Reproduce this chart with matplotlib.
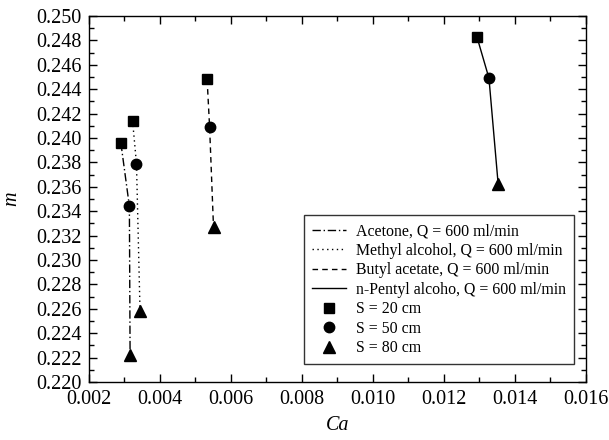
import matplotlib.pyplot as plt
from matplotlib.lines import Line2D
from matplotlib.ticker import MultipleLocator

plt.rcParams['font.family'] = ['Liberation Serif', 'DejaVu Serif']
plt.rcParams['mathtext.fontset'] = 'stix'

# Ca values for S = 20, 50, 80 cm
acetone_ca = [0.00290, 0.00314, 0.00316]
acetone_m = [0.2396, 0.2344, 0.2222]
methyl_ca = [0.00323, 0.00334, 0.00344]
methyl_m = [0.2414, 0.2379, 0.2258]
butyl_ca = [0.00533, 0.00540, 0.00551]
butyl_m = [0.2448, 0.2409, 0.2327]
pentyl_ca = [0.01293, 0.01327, 0.01353]
pentyl_m = [0.2483, 0.2449, 0.2362]

series = [
    ('Acetone, Q = 600 ml/min', acetone_ca, acetone_m, (0, (6, 2, 1, 2))),
    ('Methyl alcohol, Q = 600 ml/min', methyl_ca, methyl_m, (0, (1, 2.5))),
    ('Butyl acetate, Q = 600 ml/min', butyl_ca, butyl_m, (0, (4, 3))),
    ('n-Pentyl alcoho, Q = 600 ml/min', pentyl_ca, pentyl_m, '-'),
]
markers = [('s', 'S = 20 cm', 6.5), ('o', 'S = 50 cm', 7.5), ('^', 'S = 80 cm', 8)]

fig = plt.figure(figsize=(6.09, 4.40), dpi=100)
ax = fig.add_axes([0.146, 0.1318, 0.816, 0.832])

for label, xs, ys, ls in series:
    ax.plot(xs, ys, color='black', linestyle=ls, linewidth=1)
    for i, (mk, _, ms) in enumerate(markers):
        ax.plot(xs[i], ys[i], marker=mk, color='black', markersize=ms, linestyle='none')

ax.set_xlim(0.002, 0.016)
ax.set_ylim(0.220, 0.250)
ax.xaxis.set_major_locator(MultipleLocator(0.002))
ax.xaxis.set_minor_locator(MultipleLocator(0.001))
ax.yaxis.set_major_locator(MultipleLocator(0.002))
ax.yaxis.set_minor_locator(MultipleLocator(0.001))
ax.xaxis.set_major_formatter(plt.FormatStrFormatter('%.3f'))
ax.yaxis.set_major_formatter(plt.FormatStrFormatter('%.3f'))
ax.tick_params(which='both', direction='in', top=True, right=True, labelsize=14.5, width=1)
ax.tick_params(which='major', length=6)
ax.tick_params(which='minor', length=3.5)
ax.tick_params(axis='x', pad=6)
ax.tick_params(axis='y', pad=5)
for s in ax.spines.values():
    s.set_linewidth(1)

ax.set_xlabel('Ca', fontsize=14.5, style='italic', labelpad=5)
ax.set_ylabel('m', fontsize=14.5, style='italic', labelpad=11)

handles = [Line2D([], [], color='black', linestyle=ls, linewidth=1, label=lab)
           for lab, _, _, ls in series]
handles += [Line2D([], [], color='black', marker=mk, markersize=ms, linestyle='none', label=lab)
            for mk, lab, ms in markers]
leg = ax.legend(handles=handles, loc='lower right', bbox_to_anchor=(0.976, 0.049),
                borderaxespad=0, fontsize=11.4, frameon=True, fancybox=False,
                edgecolor='black', handlelength=2.15, labelspacing=0.22,
                borderpad=0.5, handletextpad=0.63)
leg.get_frame().set_linewidth(1)

fig.savefig('out.png', dpi=100)
